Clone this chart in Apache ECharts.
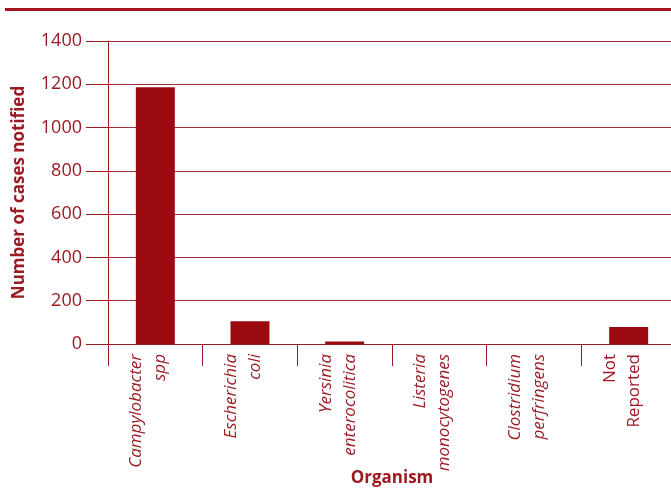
<!DOCTYPE html>
<html><head><meta charset="utf-8">
<script src="https://cdn.jsdelivr.net/npm/echarts@6/dist/echarts.min.js"></script>
<style>html,body{margin:0;padding:0;background:#fff}#c{width:671px;height:492px}</style>
</head><body><div id="c"></div>
<script>
var categories = ['Campylobacter\nspp', 'Escherichia\ncoli', 'Yersinia\nenterocolitica', 'Listeria\nmonocytogenes', 'Clostridium\nperfringens', 'Not\nReported'];
var italicFlags = [true, true, true, true, true, false];
var cases = [1186, 105, 12, 0, 0, 79];
var yTicks = { min: 0, max: 1400, interval: 200 };
var xTitle = 'Organism';
var yTitle = 'Number of cases notified';

var red = '#9c1a22';
var chart = echarts.init(document.getElementById('c'));
chart.setOption({
  animation: false,
  grid: { left: 108, right: -5, top: 41, bottom: 148, containLabel: false, outerBoundsMode: 'none' },
  graphic: [{ type: 'line', shape: { x1: 5, y1: 9.5, x2: 671, y2: 9.5 }, style: { stroke: '#a3141f', lineWidth: 3 } }],
  xAxis: {
    type: 'category',
    data: categories,
    axisLine: { lineStyle: { color: red, width: 1 } },
    axisTick: { show: true, alignWithLabel: false, length: 22, lineStyle: { color: red } },
    axisLabel: {
      rotate: 90, interval: 0, margin: 10, color: red, fontFamily: 'Open Sans', fontSize: 17, lineHeight: 24,
      formatter: function (v, i) {
        var k = italicFlags[i] ? 'i' : 'n';
        return v.split('\n').map(function (s) { return '{' + k + '|' + s + '}'; }).join('\n') + '\n{p| }';
      },
      rich: {
        i: { fontStyle: 'italic', fontFamily: 'Open Sans', fontSize: 17, lineHeight: 24, color: red },
        n: { fontStyle: 'normal', fontFamily: 'Open Sans', fontSize: 17, lineHeight: 24, color: red },
        p: { fontSize: 1, lineHeight: 14 }
      }
    },
    name: xTitle, nameLocation: 'middle', nameGap: 126, nameMoveOverlap: false,
    nameTextStyle: { color: red, fontFamily: 'Open Sans', fontWeight: 'bold', fontSize: 17 }
  },
  yAxis: {
    type: 'value', min: yTicks.min, max: yTicks.max, interval: yTicks.interval,
    axisLine: { show: true, lineStyle: { color: red, width: 1 } },
    axisTick: { show: true, length: 22, lineStyle: { color: red } },
    splitLine: { show: true, lineStyle: { color: '#a8303a', width: 1 } },
    axisLabel: { margin: 26, color: red, fontFamily: 'Open Sans', fontSize: 18, formatter: function (v) { return String(v); } },
    name: yTitle, nameLocation: 'middle', nameGap: 80, nameMoveOverlap: false,
    nameTextStyle: { color: red, fontFamily: 'Open Sans', fontWeight: 'bold', fontSize: 17 }
  },
  series: [{ type: 'bar', data: cases, barWidth: 39, itemStyle: { color: '#9c0a12' } }]
});
</script></body></html>
